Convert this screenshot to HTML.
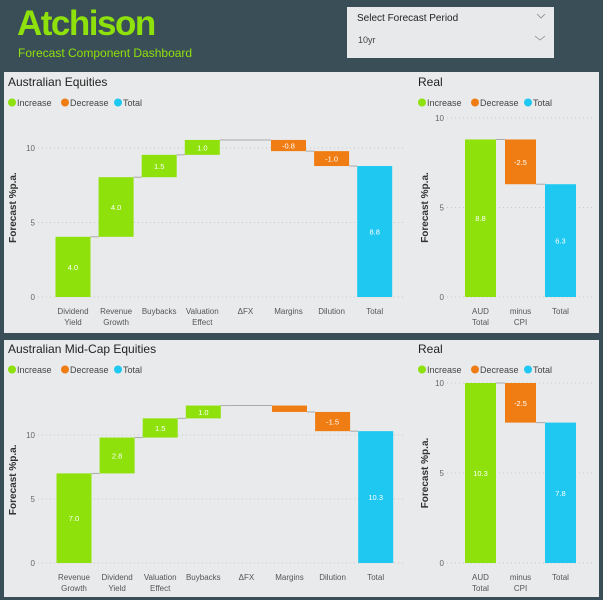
<!DOCTYPE html>
<html><head><meta charset="utf-8">
<style>
html,body{margin:0;padding:0;background:#3a4e58;}
svg{display:block;font-family:"Liberation Sans",sans-serif;}
</style></head>
<body>
<svg id="s" width="603" height="600" viewBox="0 0 603 600">
<rect x="0" y="0" width="603" height="600" fill="#3a4e58"/>
<text x="17" y="35" font-size="35" font-weight="bold" fill="#8ee10a" letter-spacing="-1.5">Atchison</text>
<text x="18" y="57" font-size="12" fill="#8ee10a">Forecast Component Dashboard</text>
<g>
<rect x="347" y="7" width="207" height="51" fill="#e8e9ea"/>
<text x="357" y="21" font-size="10" fill="#222">Select Forecast Period</text>
<path d="M537 14 l4 4 l4 -4" fill="none" stroke="#888" stroke-width="0.8"/>
<text x="358" y="43" font-size="9" fill="#444">10yr</text>
<path d="M535 36 l5 4 l5 -4" fill="none" stroke="#888" stroke-width="0.8"/>
</g>
<rect x="4" y="72" width="595" height="261" fill="#e9eaeb"/>
<rect x="4" y="340" width="595" height="257" fill="#e9eaeb"/>
<g id="charts"></g>
</svg>
<script>
// Chart 1: Australian Equities
const c1Categories = [["Dividend","Yield"],["Revenue","Growth"],["Buybacks"],["Valuation","Effect"],["\u0394FX"],["Margins"],["Dilution"]];
const c1Values = [4.04, 4.0, 1.5, 1.0, 0, -0.75, -1.0];
const c1Labels = ["4.0","4.0","1.5","1.0","","-0.8","-1.0"];
const c1TotalLabel = "8.8";
const c1Ticks = [0, 5, 10];
// Real 1
const r1Categories = [["AUD","Total"],["minus","CPI"]];
const r1Values = [8.8, -2.5];
const r1Labels = ["8.8","-2.5"];
const r1TotalLabel = "6.3";
const r1Ticks = [0, 5, 10];
// Chart 2: Australian Mid-Cap Equities
const c2Categories = [["Revenue","Growth"],["Dividend","Yield"],["Valuation","Effect"],["Buybacks"],["\u0394FX"],["Margins"],["Dilution"]];
const c2Values = [7.0, 2.8, 1.5, 1.0, 0, -0.5, -1.5];
const c2Labels = ["7.0","2.8","1.5","1.0","","","-1.5"];
const c2TotalLabel = "10.3";
const c2Ticks = [0, 5, 10];
// Real 2
const r2Categories = [["AUD","Total"],["minus","CPI"]];
const r2Values = [10.3, -2.5];
const r2Labels = ["10.3","-2.5"];
const r2TotalLabel = "7.8";
const r2Ticks = [0, 5, 10];

const NS = "http://www.w3.org/2000/svg";
const root = document.getElementById("charts");
const GREEN="#8ee10a", ORANGE="#f07d14", BLUE="#1ec8f0";
function mk(tag, attrs, parent){const e=document.createElementNS(NS,tag);for(const k in attrs)e.setAttribute(k,attrs[k]);(parent||root).appendChild(e);return e;}

function legend(x,y,g){
  const items=[["Increase",GREEN],["Decrease",ORANGE],["Total",BLUE]];
  let cx=x;
  items.forEach(it=>{
    const grp=mk("g",{},g);
    
    
    mk("circle",{cx:cx+4,cy:y-3.5,r:4,fill:it[1]},grp);
    const t=mk("text",{x:cx+9,y:y,"font-size":9,fill:"#444"},grp);t.textContent=it[0];
    cx+=9+it[0].length*4.75+6;
  });
}

function chart(o){
  const g=mk("g",{});
  
  
  const t=mk("text",{x:o.tx,y:o.ty,"font-size":12,fill:"#222"},g);
  t.textContent=o.title;
  
  
  legend(o.tx,o.ty+20,g);
  const y=v=>o.y0-Math.min(v,o.max)*o.ppu;
  o.ticks.forEach(tv=>{
    const l=mk("line",{x1:o.gx1,x2:o.gx2,y1:y(tv),y2:y(tv),stroke:"#c8c8c8","stroke-dasharray":"1 3","stroke-width":1},g);
    
    
    const tt=mk("text",{x:o.gx1-3,y:y(tv)+3,"font-size":8,fill:"#666","text-anchor":"end"},g);
    tt.textContent=tv;
    
    
  });
  const yt=mk("text",{transform:`translate(${o.ytx},${(o.y0+y(o.max))/2}) rotate(-90)`,"font-size":10,"font-weight":"bold",fill:"#333","text-anchor":"middle"},g);
  yt.textContent="Forecast %p.a.";
  
  
  let cum=0;
  const n=o.values.length;
  const xc=i=>o.x0+i*o.step;
  for(let i=0;i<=n;i++){
    const isTot=i===n;
    const v=isTot?cum:o.values[i];
    const a=isTot?0:cum, b=isTot?cum:cum+v;
    const top=Math.max(a,b), bot=Math.min(a,b);
    const r=mk("rect",{x:xc(i)-o.bw/2,y:y(top),width:o.bw,height:Math.max(0,y(bot)-y(top)),fill:isTot?BLUE:(v>=0?GREEN:ORANGE)},g);
    
    
    const lbl=isTot?o.totalLabel:o.labels[i];
    if(lbl){
      const lt=mk("text",{x:xc(i),y:(y(top)+y(bot))/2+3,"font-size":7.5,fill:"#fff","text-anchor":"middle"},g);
      lt.textContent=lbl;
      
      
    }
    if(!isTot){
      cum=b;
      const sx = (v===0) ? xc(i)-o.bw/2 : xc(i)+o.bw/2;
      const cl=mk("line",{x1:sx,x2:xc(i+1)-o.bw/2,y1:y(cum),y2:y(cum),stroke:"#aaa","stroke-width":1},g);
      
      
    }
    const cat=isTot?["Total"]:o.cats[i];
    cat.forEach((s,k)=>{
      const ct=mk("text",{x:xc(i),y:o.y0+17+k*11,"font-size":8,fill:"#555","text-anchor":"middle"},g);
      ct.textContent=s;
      
      
    });
  }
}

chart({name:"australian-equities-waterfall",title:"Australian Equities",tx:8,ty:86,values:c1Values,labels:c1Labels,totalLabel:c1TotalLabel,cats:c1Categories,ticks:c1Ticks,y0:297,ppu:14.9,max:12,x0:73,step:43.1,bw:35,gx1:38,gx2:405,ytx:16});
chart({name:"real-equities-waterfall",title:"Real",tx:418,ty:86,values:r1Values,labels:r1Labels,totalLabel:r1TotalLabel,cats:r1Categories,ticks:r1Ticks,y0:297,ppu:17.9,max:10,x0:480.5,step:40,bw:31,gx1:447,gx2:595,ytx:428});
chart({name:"mid-cap-equities-waterfall",title:"Australian Mid-Cap Equities",tx:8,ty:353,values:c2Values,labels:c2Labels,totalLabel:c2TotalLabel,cats:c2Categories,ticks:c2Ticks,y0:563,ppu:12.8,max:13,x0:74,step:43.1,bw:35,gx1:38,gx2:405,ytx:16});
chart({name:"real-mid-cap-waterfall",title:"Real",tx:418,ty:353,values:r2Values,labels:r2Labels,totalLabel:r2TotalLabel,cats:r2Categories,ticks:r2Ticks,y0:563,ppu:18,max:10,x0:480.5,step:40,bw:31,gx1:447,gx2:595,ytx:428});
</script>
</body></html>
